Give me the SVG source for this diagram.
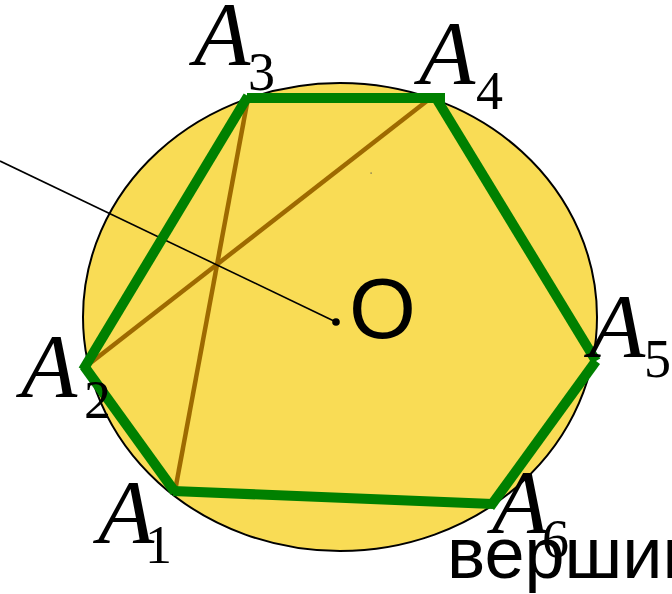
<svg xmlns="http://www.w3.org/2000/svg" width="672" height="594" viewBox="0 0 672 594">
<style>
.side{stroke:#008000;stroke-width:10;stroke-linecap:butt;fill:none}
.diag{stroke:#9E6A00;stroke-width:4.5;fill:none}
.lbl{font-family:"Liberation Serif",serif;font-style:italic;font-size:92px;fill:#000}
.sub{font-family:"Liberation Serif",serif;font-size:54px;fill:#000}
.txt{font-family:"Liberation Sans",Arial,sans-serif;fill:#000}
</style>
<rect width="672" height="594" fill="#fff"/>
<g id="circle">
<ellipse cx="340" cy="317" rx="257" ry="234" fill="#F9DC55" stroke="#000" stroke-width="2"/>
<rect x="370.5" y="172.5" width="1.2" height="1.2" fill="#555"/>
</g>
<g id="connectors">
<line class="diag" x1="175" y1="491" x2="248" y2="98"/>
<line class="diag" x1="84" y1="368" x2="432" y2="97"/>
<line x1="0" y1="161" x2="336" y2="322" stroke="#000" stroke-width="1.6"/>
<line class="side" x1="247" y1="98" x2="445" y2="98"/>
<line class="side" x1="436" y1="98" x2="596" y2="361"/>
<line class="side" x1="596" y1="361" x2="490" y2="507"/>
<line class="side" x1="493" y1="504" x2="173" y2="491"/>
<line class="side" x1="175" y1="492" x2="84" y2="366"/>
<line class="side" x1="83" y1="370" x2="248" y2="96"/>
</g>
<g id="center">
<circle cx="336" cy="322" r="3.8" fill="#000"/>
<text class="txt" x="349" y="338" font-size="86">O</text>
</g>
<g id="A1"><text class="lbl" x="98" y="543">A</text><text class="sub" x="145" y="563">1</text></g>
<g id="A2"><text class="lbl" x="21" y="397">A</text><text class="sub" x="84" y="418">2</text></g>
<g id="A3"><text class="lbl" x="194" y="65">A</text><text class="sub" x="248" y="90">3</text></g>
<g id="A4"><text class="lbl" x="419" y="84">A</text><text class="sub" x="476" y="109">4</text></g>
<g id="A5"><text class="lbl" x="589" y="357">A</text><text class="sub" x="644" y="377">5</text></g>
<g id="A6"><text class="lbl" x="492" y="533">A</text><text class="sub" x="542" y="557">6</text></g>
<g id="caption"><text class="txt" x="447" y="578" font-size="72">вершины</text></g>
</svg>
